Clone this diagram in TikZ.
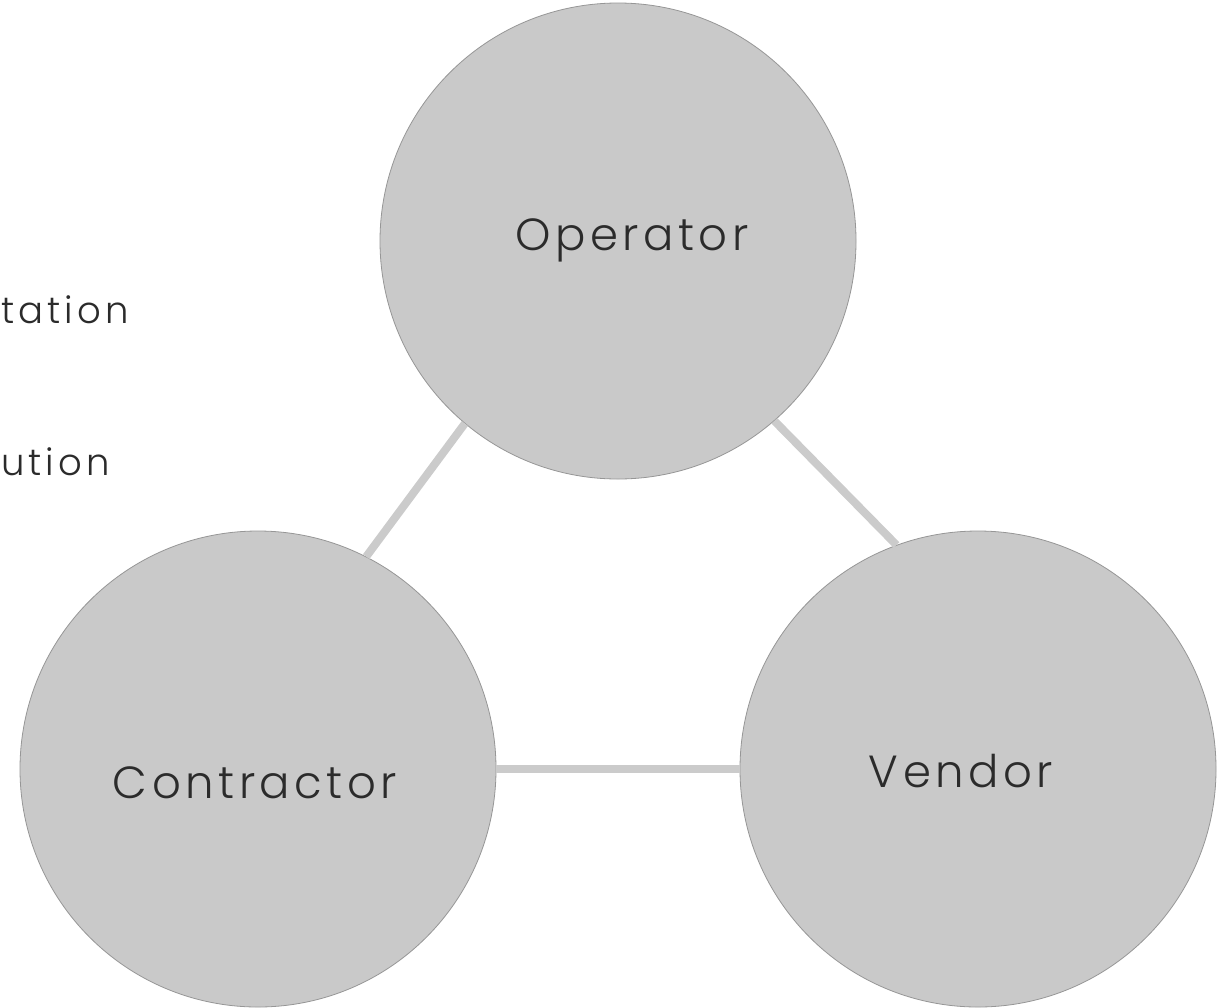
\documentclass[tikz,border=0pt]{standalone}
\usepackage{fontspec}
\setmainfont{Poppins}[UprightFont=* Light]
\begin{document}
\begin{tikzpicture}[x=1pt,y=-1pt,
  party/.style={circle, minimum size=476pt, inner sep=0pt, fill=partyfill, draw=partyedge, line width=0.8pt},
  link/.style={draw=linkgray, line width=8pt},
  partylabel/.style={font=\fontsize{45}{50}\selectfont\addfontfeatures{LetterSpace=10}, text=labeltext},
  sidetext/.style={font=\fontsize{37}{40}\selectfont\addfontfeatures{LetterSpace=11}, text=labeltext, anchor=base west, inner sep=0pt}]
\definecolor{partyfill}{HTML}{C9C9C9}
\definecolor{partyedge}{HTML}{969696}
\definecolor{linkgray}{HTML}{CBCBCB}
\definecolor{labeltext}{HTML}{2B2B2B}
\useasboundingbox (0,0) rectangle (1222,1007);

% side captions at the left edge
\node[sidetext] (capA) at (1,323) {tation};
\node[sidetext] (capB) at (1,475) {ution};

% the three parties
\node[party] (op)  at (618,241) {};
\node[party] (con) at (258,769) {};
\node[party] (ven) at (978,769) {};

% connectors between the parties
\draw[link] (op.230) -- (con.63.5);
\draw[link] (op.311.6) -- (ven.110.6);
\draw[link] (con.0) -- (ven.180);

% labels
\node[partylabel] (opl)  at (632,240) {Operator};
\node[partylabel] (conl) at (255,783) {Contractor};
\node[partylabel] (venl) at (961,771) {Vendor};
\end{tikzpicture}
\end{document}
